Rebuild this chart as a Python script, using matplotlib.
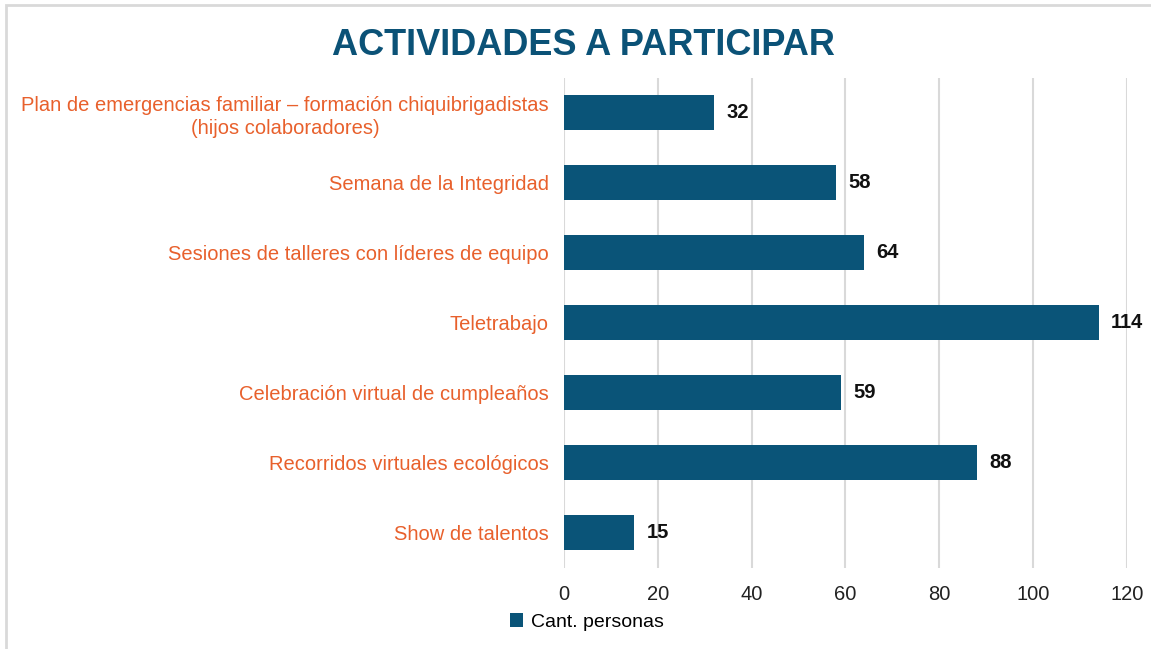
import matplotlib.pyplot as plt
from matplotlib.patches import Rectangle

plt.rcParams['font.family'] = ['Liberation Sans', 'DejaVu Sans']

actividades = [
    'Plan de emergencias familiar \u2013 formación chiquibrigadistas\n(hijos colaboradores)',
    'Semana de la Integridad',
    'Sesiones de talleres con líderes de equipo',
    'Teletrabajo',
    'Celebración virtual de cumpleaños',
    'Recorridos virtuales ecológicos',
    'Show de talentos',
]
personas = [32, 58, 64, 114, 59, 88, 15]
ticks = [0, 20, 40, 60, 80, 100, 120]

azul = '#0a5478'
naranja = '#e8602c'

fig = plt.figure(figsize=(11.51, 6.49), dpi=100)
ax = fig.add_axes([0.490, 0.125, 0.489, 0.755])

y = list(range(len(actividades)))
bars = ax.barh(y, personas, height=0.5, color=azul, label='Cant. personas', zorder=3)
ax.set_ylim(len(actividades) - 0.5, -0.5)
ax.set_xlim(0, 120)
ax.set_xticks(ticks)
ax.set_xticklabels([str(t) for t in ticks], fontsize=14.5, color='#222222')
ax.set_yticks(y)
ax.set_yticklabels(actividades, fontsize=14.5, color=naranja, linespacing=1.25,
                   multialignment='center')
ax.tick_params(axis='y', length=0, pad=11)
ax.tick_params(axis='x', length=0, pad=12)
ax.grid(axis='x', color='#d9d9d9', linewidth=1.5, zorder=0)
for s in ax.spines.values():
    s.set_visible(False)

for b, v in zip(bars, personas):
    ax.text(b.get_width() + 2.6, b.get_y() + b.get_height() / 2, str(v),
            va='center', ha='left', fontsize=14.5, fontweight='bold', color='#111111')

fig.text(0.507, 0.93, 'ACTIVIDADES A PARTICIPAR', ha='center', va='center',
         fontsize=26, fontweight='bold', color='#0b5277')

ax.legend(loc='center', bbox_to_anchor=(0.51, 0.042), bbox_transform=fig.transFigure,
          frameon=False, fontsize=14, handlelength=0.7, handleheight=0.7,
          handletextpad=0.4)

fig.patches.append(Rectangle((6 / 1151, -0.1), 1.2, 1.1 - 5 / 649,
                             transform=fig.transFigure, fill=False,
                             edgecolor='#d9d9d9', linewidth=2))

fig.savefig('out.png', dpi=100)
